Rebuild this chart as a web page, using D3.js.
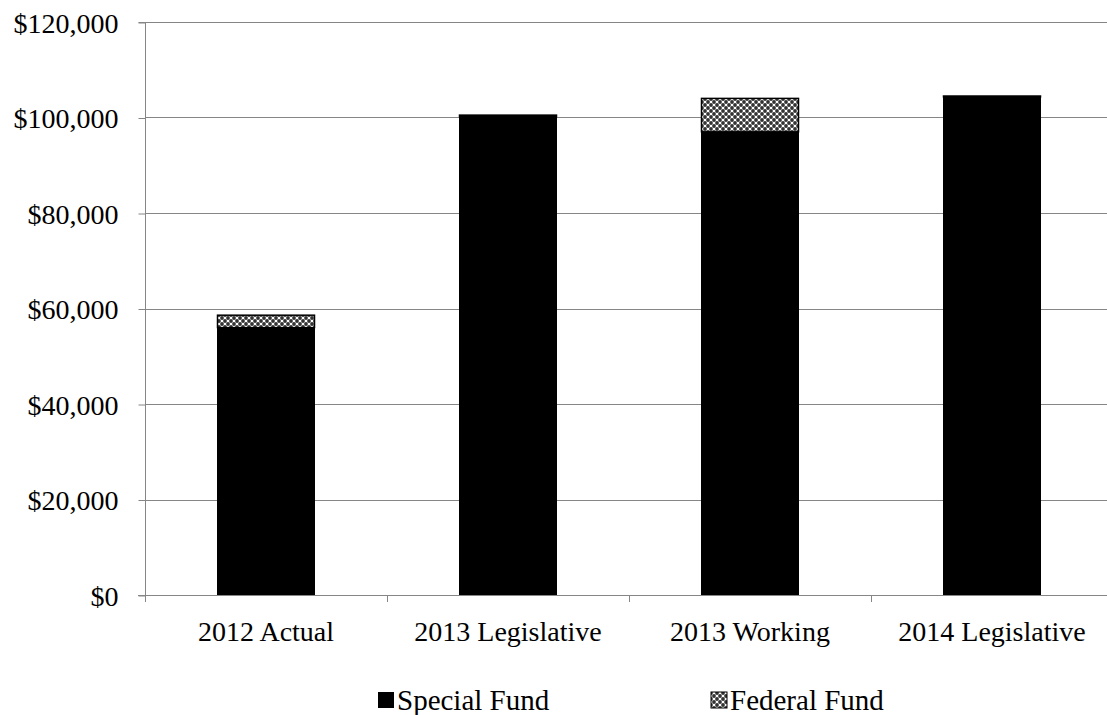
<!DOCTYPE html>
<html>
<head>
<meta charset="utf-8">
<script src="https://cdn.jsdelivr.net/npm/d3@7"></script>
<style>
  html, body { margin: 0; padding: 0; background: #fff; }
  svg { display: block; }
  text { font-family: "Liberation Serif", "Times New Roman", serif; fill: #000; }
</style>
</head>
<body>
<svg id="chart" width="1107" height="715"></svg>
<script>
// Budget by fund source, in dollars
const categories = ["2012 Actual", "2013 Legislative", "2013 Working", "2014 Legislative"];
const specialFund = [56000, 100200, 97000, 104300];
const federalFund = [2600, 300, 7000, 200];
const seriesNames = ["Special Fund", "Federal Fund"];
const yTicks = [0, 20000, 40000, 60000, 80000, 100000, 120000];

const svg = d3.select("#chart");
const plotLeft = 145, plotRight = 1113, plotTop = 22, plotBottom = 595;

// Crosshatch fill for the federal portion
const defs = svg.append("defs");
const pat = defs.append("pattern")
  .attr("id", "hatch").attr("patternUnits", "userSpaceOnUse")
  .attr("width", 6).attr("height", 6);
pat.append("rect").attr("width", 6).attr("height", 6).attr("fill", "#fff");
[[0, 0], [6, 0], [0, 6], [6, 6], [3, 3]].forEach(([px, py]) =>
  pat.append("circle").attr("cx", px).attr("cy", py).attr("r", 1.9).attr("fill", "#333"));

const x = d3.scaleBand().domain(categories).range([plotLeft, plotRight]).paddingInner(0).paddingOuter(0);
const y = d3.scaleLinear().domain([0, 120000]).range([plotBottom, plotTop]);

// Horizontal gridlines
svg.append("g").selectAll("line").data(yTicks.filter(t => t > 0)).join("line")
  .attr("x1", plotLeft).attr("x2", plotRight)
  .attr("y1", d => Math.round(y(d)) + 0.5).attr("y2", d => Math.round(y(d)) + 0.5)
  .attr("stroke", "#868686").attr("stroke-width", 1);

// Y axis
const yAxis = d3.axisLeft(y).tickValues(yTicks).tickSize(7).tickPadding(20)
  .tickFormat(d => "$" + d3.format(",")(d));
const gy = svg.append("g").attr("transform", `translate(${plotLeft + 0.5},0.5)`).call(yAxis);
gy.select(".domain").attr("stroke", "#868686").attr("d", `M-7,${plotTop}H0V${plotBottom}`);
gy.selectAll(".tick line").attr("stroke", "#868686");
gy.selectAll(".tick text").attr("font-size", 28).attr("font-family", "Liberation Serif").attr("fill", "#000").attr("dy", "0.34em");

// Bars: special fund at the base, federal fund stacked on top
const barW = 97;
const cx = d => x(d) + x.bandwidth() / 2;
const g = svg.append("g");
categories.forEach((c, i) => {
  const s = specialFund[i], f = federalFund[i];
  g.append("rect")
    .attr("x", cx(c) - barW / 2).attr("width", barW)
    .attr("y", y(s)).attr("height", y(0) - y(s))
    .attr("fill", "#000").attr("stroke", "#000");
  g.append("rect")
    .attr("x", cx(c) - barW / 2).attr("width", barW)
    .attr("y", y(s + f)).attr("height", y(s) - y(s + f))
    .attr("fill", "url(#hatch)").attr("stroke", "#000").attr("stroke-width", 1.5);
});

// X axis with category boundary ticks
const xg = svg.append("g");
xg.append("line").attr("x1", plotLeft - 7).attr("x2", plotRight)
  .attr("y1", plotBottom + 0.5).attr("y2", plotBottom + 0.5).attr("stroke", "#868686");
const bounds = categories.map(c => x(c)).concat([x(categories[categories.length - 1]) + x.bandwidth()]);
xg.selectAll("line.tk").data(bounds).join("line").attr("class", "tk")
  .attr("x1", d => Math.round(d) + 0.5).attr("x2", d => Math.round(d) + 0.5)
  .attr("y1", plotBottom).attr("y2", plotBottom + 7).attr("stroke", "#868686");
xg.selectAll("text").data(categories).join("text")
  .attr("x", d => cx(d)).attr("y", plotBottom + 46)
  .attr("text-anchor", "middle").attr("font-size", 28).text(d => d);

// Legend
const legend = svg.append("g");
const legendX = [378, 711];
seriesNames.forEach((name, i) => {
  legend.append("rect").attr("x", legendX[i]).attr("y", 692).attr("width", 16).attr("height", 16)
    .attr("fill", i === 0 ? "#000" : "url(#hatch)").attr("stroke", i === 0 ? "none" : "#000");
  legend.append("text").attr("x", legendX[i] + 19).attr("y", 710)
    .attr("font-size", 29).text(name);
});
</script>
</body>
</html>
